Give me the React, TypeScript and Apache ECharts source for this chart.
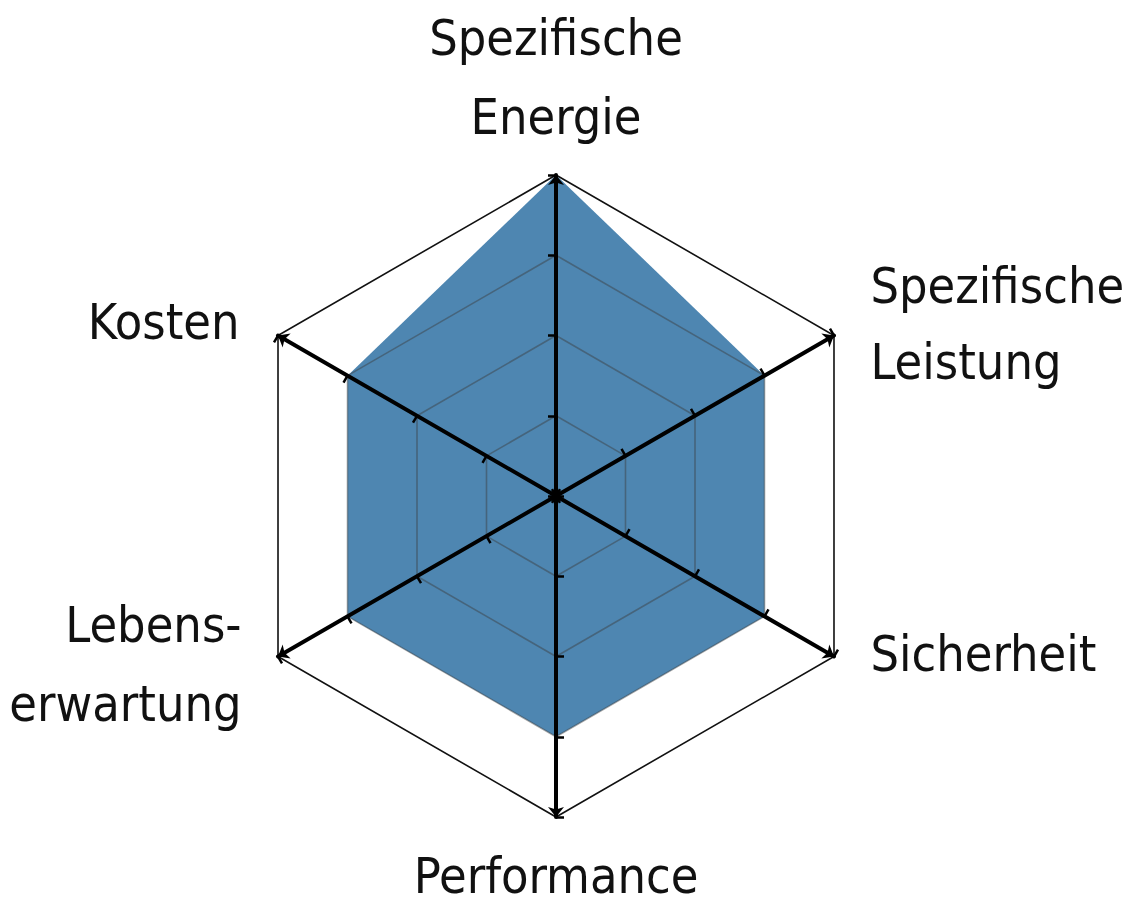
import React, { useEffect, useRef } from "react";
import * as echarts from "echarts";

// Indicators listed counter-clockwise starting at the top
const indicatorNames = [
  "Spezifische\nEnergie",
  "Kosten",
  "Lebens-\nerwartung",
  "Performance",
  "Sicherheit",
  "Spezifische\nLeistung",
];
const indicatorMax = [4, 4, 4, 4, 4, 4];
const seriesValues = [4, 3, 3, 3, 3, 3];

const richKey: Record<string, string> = {
  "Spezifische\nEnergie": "t",
  Kosten: "l1",
  "Lebens-\nerwartung": "l2",
  Performance: "b",
  Sicherheit: "r2",
  "Spezifische\nLeistung": "r1",
};

export default function App() {
  const ref = useRef<HTMLDivElement>(null);
  useEffect(() => {
    if (!ref.current) return;
    const chart = echarts.init(ref.current, null, { renderer: "svg" });
    const font = "'DejaVu Sans Condensed', sans-serif";
    const base = { fontFamily: font, fontSize: 50, color: "#111", lineHeight: 79 };
    chart.setOption({
      animation: false,
      backgroundColor: "#fff",
      radar: {
        z: 5,
        center: [556, 496],
        radius: 321,
        startAngle: 90,
        splitNumber: 4,
        shape: "polygon",
        nameGap: 19,
        indicator: indicatorNames.map((name, i) => ({ name, max: indicatorMax[i], min: 0 })),
        axisName: {
          formatter: (v: string) =>
            v
              .split("\n")
              .map((s) => `{${richKey[v]}|${s}}`)
              .join("\n"),
          ...base,
          rich: {
            t: { ...base },
            b: { ...base },
            r1: { ...base, lineHeight: 76, padding: [0, 0, 4, 20] },
            r2: { ...base, padding: [0, 0, 24, 20] },
            l1: { ...base, padding: [0, 22, 8, 0] },
            l2: { ...base, padding: [0, 20, 4, 0] },
          },
        },
        axisLine: {
          show: true,
          symbol: ["none", "arrow"],
          symbolSize: [12, 10],
          lineStyle: { color: "#000", width: 4 },
        },
        axisTick: {
          show: true,
          length: 8,
          lineStyle: { color: "#000", width: 2.5 },
        },
        splitLine: {
          show: true,
          lineStyle: {
            color: [
              "rgba(60,60,60,0.45)",
              "rgba(60,60,60,0.45)",
              "rgba(60,60,60,0.45)",
              "rgba(60,60,60,0.45)",
              "#111",
            ],
            width: 1.6,
          },
        },
        splitArea: { show: false },
      },
      series: [
        {
          type: "radar",
          z: 1,
          symbol: "none",
          lineStyle: { width: 0 },
          areaStyle: { color: "#4e86b1", opacity: 1 },
          data: [{ value: seriesValues }],
        },
      ],
    });
    return () => chart.dispose();
  }, []);
  return (
    <div
      ref={ref}
      style={{ position: "fixed", left: 0, top: 0, width: 1133, height: 906 }}
    />
  );
}
